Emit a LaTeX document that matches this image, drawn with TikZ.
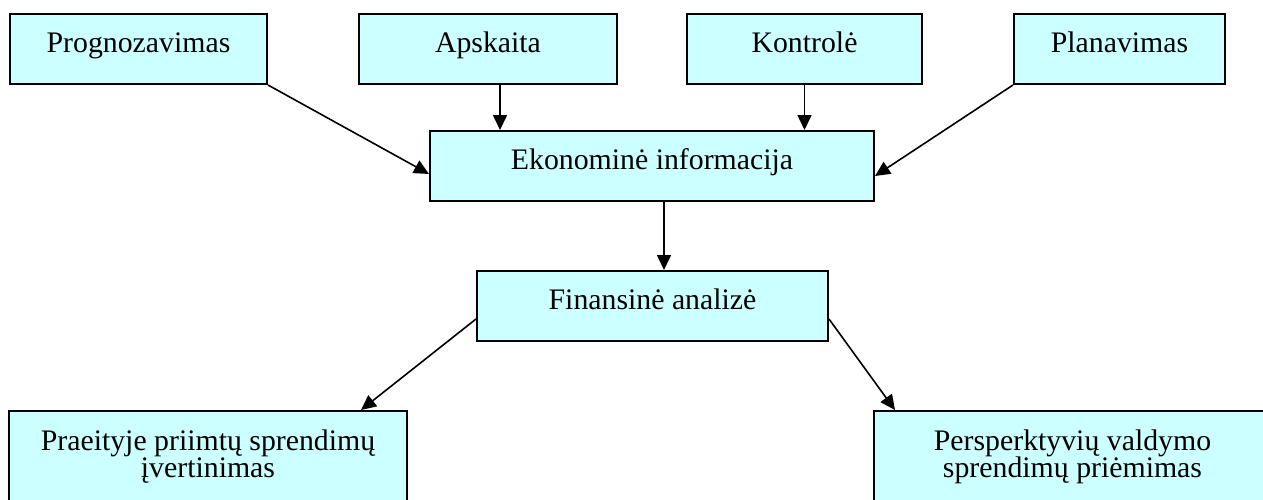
\documentclass[tikz,border=0pt]{standalone}
\usepackage{fontspec}
\setmainfont{Liberation Serif}
\usepackage{tikz}
\usetikzlibrary{arrows.meta}

\definecolor{boxcyan}{RGB}{204,255,255}

\begin{document}
\begin{tikzpicture}[x=0.5pt, y=-0.5pt,
  main/.style = {draw, line width=1pt, fill=boxcyan, anchor=north west, inner sep=0pt,
    align=center, text height=19pt, text depth=16pt, font=\fontsize{14.9}{13.8}\selectfont},
  low/.style = {main, text height=33.4pt, text depth=25pt},
  link/.style = {line width=0.8pt, -{Triangle[length=7.5pt,width=7pt]}}]
\clip (0,0) rectangle (1263,499);
\node[main, minimum width=128.5pt] (1) at (9,13) {Prognozavimas};
\node[main, minimum width=129pt] (2) at (358,13) {Apskaita};
\node[main, minimum width=117.5pt] (3) at (686,13) {Kontrolė};
\node[main, minimum width=105.5pt] (4) at (1013,13) {Planavimas};
\node[main, minimum width=222pt] (5) at (429,130) {Ekonominė informacija};
\node[main, minimum width=175.5pt] (6) at (476,270) {Finansinė analizė};
\node[low, minimum width=199pt] (7) at (8,410) {Praeityje priimtų sprendimų\\įvertinimas};
\node[low, minimum width=198.5pt] (8) at (873,410) {Persperktyvių valdymo\\sprendimų priėmimas};
\draw[link] (1.south east) -- ([yshift=-4pt]5.west);
\draw[link] ([xshift=6pt]2.south) -- ([xshift=6pt]2.south |- 5.north);
\draw[link] (3.south) -- (3.south |- 5.north);
\draw[link] (4.south west) -- ([yshift=-5pt]5.east);
\draw[link] ([xshift=6pt]5.south) -- ([xshift=6pt]5.south |- 6.north);
\draw[link] ([yshift=-6.5pt]6.west) -- ([xshift=76.5pt]7.north);
\draw[link] ([yshift=-6.5pt]6.east) -- ([xshift=11pt]8.north west);
\end{tikzpicture}
\end{document}
